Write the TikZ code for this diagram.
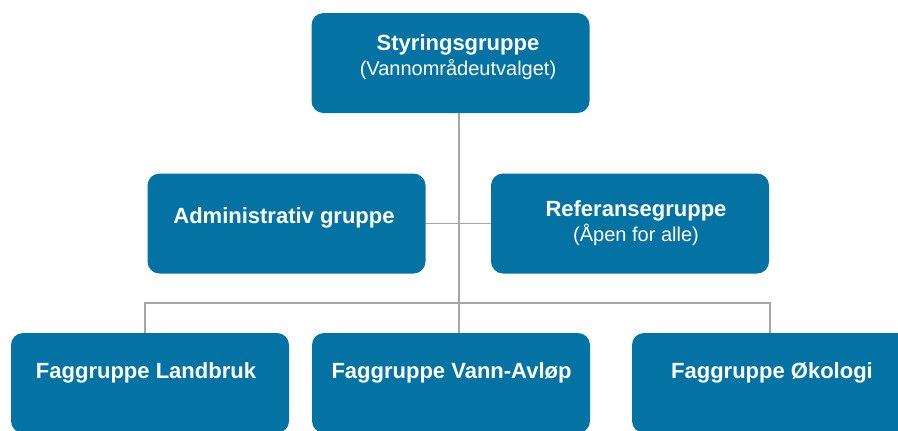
\documentclass[tikz,border=0pt]{standalone}
\usepackage{fontspec}
\setmainfont{Liberation Sans}
\usepackage{xcolor}
\usetikzlibrary{positioning}
\definecolor{myblue}{RGB}{4,114,162}
\definecolor{mygray}{RGB}{166,166,166}

\begin{document}
\begin{tikzpicture}[x=0.5pt, y=-0.5pt,
  grpbox/.style={fill=myblue, draw=none, rounded corners=6pt, minimum width=139pt, minimum height=50pt, inner sep=0pt},
  grptxt/.style={text=white, align=center, font=\fontsize{11}{12.5}\selectfont},
  link/.style={draw=mygray, line width=0.75pt}]
\useasboundingbox (0,0) rectangle (898,430);
% boxes
\node[grpbox] (styr) at (450.5,63) {};
\node[grpbox] (admin) at (286.5,223.5) {};
\node[grpbox] (ref) at (630,223.5) {};
\node[grpbox] (landbruk) at (150,383) {};
\node[grpbox] (vann) at (451,383) {};
\node[grpbox] (okologi) at (771,383) {};
% texts
\node[grptxt] (styr-t) at (458,57) {\textbf{Styringsgruppe}\\{\fontsize{10}{12.5}\selectfont (Vannområdeutvalget)}};
\node[grptxt] (admin-t) at (284,218) {\textbf{Administrativ gruppe}};
\node[grptxt] (ref-t) at (636,223) {\textbf{Referansegruppe}\\{\fontsize{10}{12.5}\selectfont (Åpen for alle)}};
\node[grptxt] (landbruk-t) at (146,373) {\textbf{Faggruppe Landbruk}};
\node[grptxt] (vann-t) at (451.5,373) {\textbf{Faggruppe Vann-Avløp}};
\node[grptxt] (okologi-t) at (772,373) {\textbf{Faggruppe Økologi}};
% lines
\coordinate (trunk) at (459,303);
\coordinate (lbar) at (145,303);
\coordinate (rbar) at (770,303);
\draw[link] (styr.south -| trunk) -- (vann.north -| trunk);
\draw[link] (admin.east) -- (ref.west);
\draw[link] (lbar |- landbruk.north) -- (lbar) -- (rbar) -- (rbar |- okologi.north);
\end{tikzpicture}
\end{document}
